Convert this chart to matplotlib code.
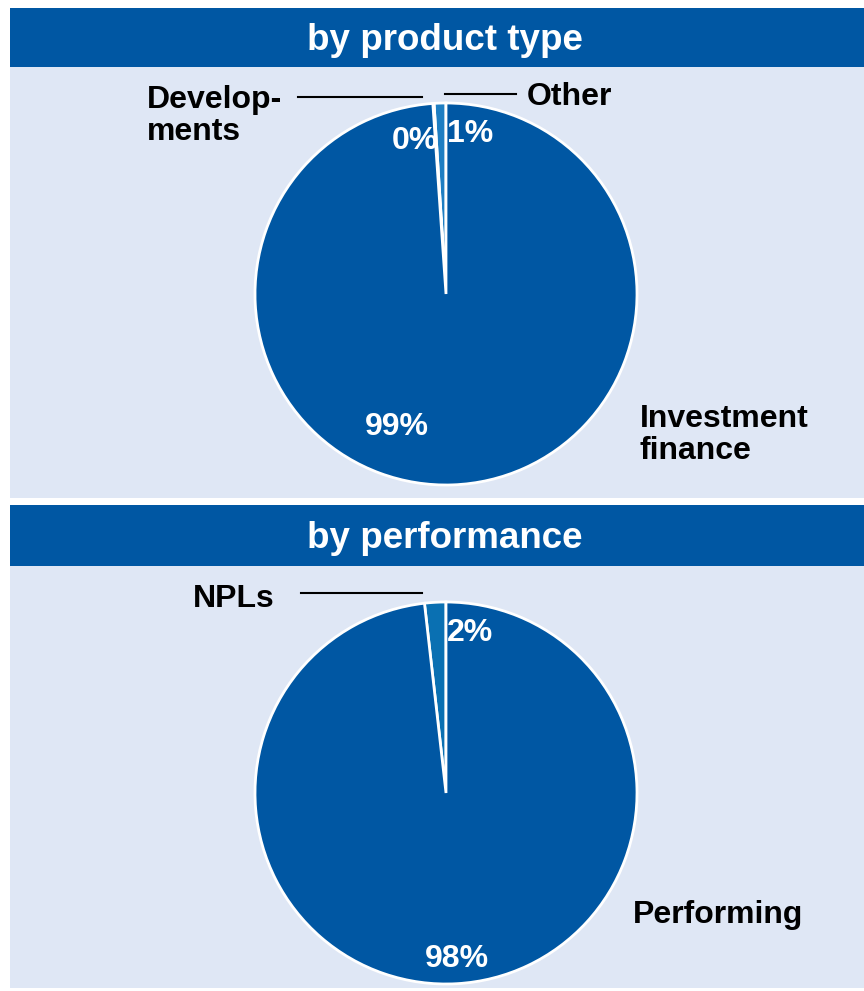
import matplotlib.pyplot as plt
from matplotlib.patches import Rectangle

plt.rcParams['font.family'] = ['Liberation Sans', 'DejaVu Sans']

DARK = '#0057A3'
LIGHT = '#1E7EC2'
LIGHT2 = '#0A70B2'
BG = '#DFE7F5'

# by product type (counter-clockwise from 12 o'clock)
prod_labels = ['Other', 'Developments', 'Investment finance']
prod_values = [1.0, 0.1, 98.9]
prod_pct = ['1%', '0%', '99%']

# by performance
perf_labels = ['NPLs', 'Performing']
perf_values = [1.8, 98.2]
perf_pct = ['2%', '98%']

W, H = 864, 991
fig = plt.figure(figsize=(W / 100, H / 100), dpi=100)


def pixel_ax(zorder):
    ax = fig.add_axes([0, 0, 1, 1], zorder=zorder)
    ax.set_xlim(0, W)
    ax.set_ylim(H, 0)
    ax.axis('off')
    ax.patch.set_alpha(0)
    return ax


bg = pixel_ax(0)

# header bands and light panels
for top, bottom, title in [(8, 67, 'by product type'), (505, 566, 'by performance')]:
    bg.add_patch(Rectangle((10, top), W - 10, bottom - top, color=DARK, lw=0))
    bg.text(445, (top + bottom) / 2 + 3, title, color='white', fontsize=26.5,
            fontweight='bold', ha='center', va='center')
bg.add_patch(Rectangle((10, 67), W - 10, 431, color=BG, lw=0))
bg.add_patch(Rectangle((10, 566), W - 10, 422, color=BG, lw=0))


def pie_ax(cx, cy, r):
    return fig.add_axes([(cx - r) / W, 1 - (cy + r) / H, 2 * r / W, 2 * r / H], zorder=1)


ax1 = pie_ax(446, 294, 191)
ax1.pie(prod_values, colors=[LIGHT, DARK, DARK], startangle=90, counterclock=True,
        radius=1, wedgeprops=dict(edgecolor='white', linewidth=2))

ax2 = pie_ax(446, 793, 191)
ax2.pie(perf_values, colors=[LIGHT2, DARK], startangle=90, counterclock=True,
        radius=1, wedgeprops=dict(edgecolor='white', linewidth=2))

for ax in (ax1, ax2):
    ax.set_xlim(-1, 1)
    ax.set_ylim(-1, 1)
    ax.axis('off')

top = pixel_ax(2)

lab = dict(fontsize=23, fontweight='bold', color='black', va='center', ha='left')
pct = dict(fontsize=23, fontweight='bold', color='white', va='center', ha='center')

# top panel labels
top.text(147, 116, 'Develop-\nments', linespacing=1.05, **lab)
top.plot([298, 422], [97, 97], color='black', lw=1.5)
top.text(527, 97, prod_labels[0], **lab)
top.plot([445, 516], [94, 94], color='black', lw=1.5)
top.text(640, 435, 'Investment\nfinance', linespacing=1.05, **lab)
top.text(415, 141, prod_pct[1], **pct)
top.text(470, 134, prod_pct[0], **pct)
top.text(397, 427, prod_pct[2], **pct)

# bottom panel labels
top.text(193, 599, perf_labels[0], **lab)
top.plot([301, 422], [593, 593], color='black', lw=1.5)
top.text(633, 915, perf_labels[1], **lab)
top.text(470, 633, perf_pct[0], **pct)
top.text(457, 959, perf_pct[1], **pct)

fig.savefig('out.png', dpi=100)
